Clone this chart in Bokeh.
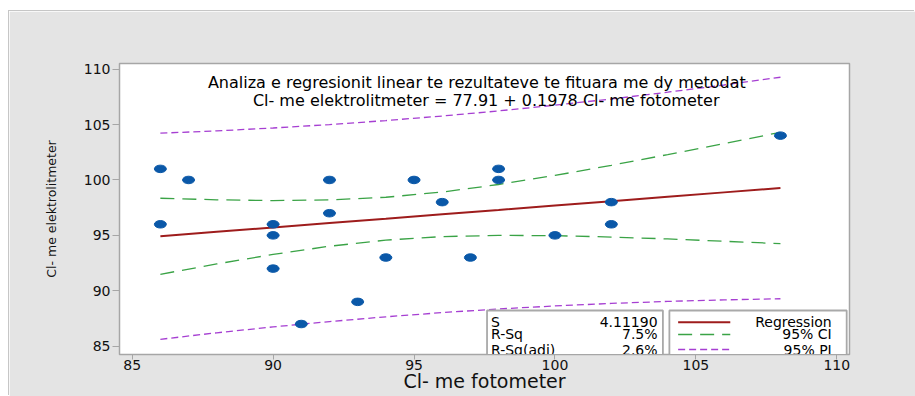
from bokeh.plotting import figure
from bokeh.models import Range1d, FixedTicker
from bokeh.embed import file_html
from bokeh.resources import INLINE
from bokeh.core.properties import value

# ---- data ----
fotometer = [86, 86, 87, 90, 90, 90, 91, 92, 92, 93, 94, 95, 96, 97, 98, 98, 100, 102, 102, 108]
elektrolitmeter = [101, 96, 100, 96, 95, 92, 87, 100, 97, 89, 93, 100, 98, 93, 101, 100, 95, 98, 96, 104]

band_x = [86, 88, 90, 92, 94, 96, 98, 100, 102, 104, 106, 108]
fit_y = [94.92, 95.32, 95.71, 96.11, 96.50, 96.90, 97.29, 97.69, 98.09, 98.48, 98.88, 99.27]
ci_lower = [91.49, 92.42, 93.28, 94.02, 94.57, 94.89, 95.00, 94.97, 94.85, 94.68, 94.47, 94.25]
ci_upper = [98.35, 98.21, 98.14, 98.20, 98.44, 98.91, 99.59, 100.41, 101.32, 102.29, 103.28, 104.30]
pi_lower = [85.62, 86.21, 86.74, 87.22, 87.65, 88.03, 88.36, 88.63, 88.86, 89.04, 89.18, 89.28]
pi_upper = [104.22, 104.43, 104.69, 105.00, 105.36, 105.77, 106.23, 106.75, 107.31, 107.92, 108.57, 109.27]

x_ticks = [85, 90, 95, 100, 105, 110]
y_ticks = [85, 90, 95, 100, 105, 110]

title_lines = ["Analiza e regresionit linear te rezultateve te fituara me dy metodat",
               "Cl- me elektrolitmeter = 77.91 + 0.1978 Cl- me fotometer"]
stat_names = ["S", "R-Sq", "R-Sq(adj)"]
stat_values = ["4.11190", "7.5%", "2.6%"]
legend_labels = ["Regression", "95% CI", "95% PI"]

x_label = "Cl- me fotometer"
y_label = "Cl- me elektrolitmeter"

# ---- styles ----
BG = "#e4e4e4"
FRAME = "#a6a6a6"
C_PTS = "#0a58a8"
C_REG = "#9e1c1c"
C_CI = "#3aa346"
C_PI = "#a63fd2"
FONT = "DejaVu Sans"

p = figure(width=906, height=385, output_backend="svg", toolbar_location=None,
           x_range=Range1d(84.55, 110.45), y_range=Range1d(84.25, 110.51),
           min_border_left=110, min_border_right=66, min_border_top=52, min_border_bottom=42,
           background_fill_color="white", border_fill_color=BG,
           outline_line_color=FRAME, outline_line_width=1.5)
p.margin = (11, 0, 0, 9)
p.styles = {"box-shadow": "-1px -1px 0 0 #c6c6c6"}

p.grid.visible = False
for ax in (p.xaxis, p.yaxis):
    ax.axis_line_color = FRAME
    ax.major_tick_line_color = FRAME
    ax.minor_tick_line_color = None
    ax.major_tick_in = 0
    ax.major_label_text_font = FONT
    ax.major_label_text_font_size = "14px"
    ax.major_label_text_color = "#111111"
    ax.axis_label_text_font = FONT
    ax.axis_label_text_font_style = "normal"
    ax.axis_label_text_color = "#111111"

p.xaxis.ticker = FixedTicker(ticks=x_ticks)
p.yaxis.ticker = FixedTicker(ticks=y_ticks)
p.xaxis.major_tick_out = 5
p.yaxis.major_tick_out = 7
p.xaxis.major_label_standoff = 0
p.yaxis.major_label_standoff = 2
p.xaxis.axis_label = x_label
p.xaxis.axis_label_text_font_size = "19px"
p.xaxis.axis_label_standoff = -3
p.yaxis.axis_label = y_label
p.yaxis.axis_label_text_font_size = "12.5px"
p.yaxis.axis_label_standoff = 22

# bands and regression
p.line(band_x, pi_upper, line_color=C_PI, line_width=1.3, line_dash="7 4")
p.line(band_x, pi_lower, line_color=C_PI, line_width=1.3, line_dash="7 4")
p.line(band_x, ci_upper, line_color=C_CI, line_width=1.3, line_dash="14 8")
p.line(band_x, ci_lower, line_color=C_CI, line_width=1.3, line_dash="14 8")
p.line(band_x, fit_y, line_color=C_REG, line_width=2)

# points
p.ellipse(fotometer, elektrolitmeter, width=12, height=7.5, width_units="screen",
          height_units="screen", fill_color=C_PTS, line_color=C_PTS)

# title text inside plot
p.text(x=[97.23], y=[108.82], text=[title_lines[0]], text_align="center", text_baseline="middle",
       text_font=value(FONT), text_font_size="16px", text_color="black")
p.text(x=[97.56], y=[107.2], text=[title_lines[1]], text_align="center", text_baseline="middle",
       text_font=value(FONT), text_font_size="16px", text_color="black")

# stats box and legend box (clipped by frame bottom)
row_y = [87.17, 86.06, 84.70]
p.quad(left=[97.59], right=[103.83], bottom=[83.0], top=[88.22],
       fill_color="white", line_color="#a9a9a9", line_width=1.8)
p.quad(left=[104.06], right=[110.35], bottom=[83.0], top=[88.22],
       fill_color="white", line_color="#a9a9a9", line_width=1.8)
p.text(x=[97.73] * 3, y=row_y, text=stat_names, text_align="left", text_baseline="middle",
       text_font=value(FONT), text_font_size="14px", text_color="black")
p.text(x=[103.64] * 3, y=row_y, text=stat_values, text_align="right", text_baseline="middle",
       text_font=value(FONT), text_font_size="14px", text_color="black")
p.text(x=[109.82] * 3, y=row_y, text=legend_labels, text_align="right", text_baseline="middle",
       text_font=value(FONT), text_font_size="14px", text_color="black")
p.line([104.37, 106.22], [row_y[0]] * 2, line_color=C_REG, line_width=2)
p.line([104.37, 106.22], [row_y[1]] * 2, line_color=C_CI, line_width=1.5, line_dash="14 8")
p.line([104.37, 106.22], [row_y[2]] * 2, line_color=C_PI, line_width=1.5, line_dash="7 4")

open("out.html", "w").write(file_html(p, INLINE))
